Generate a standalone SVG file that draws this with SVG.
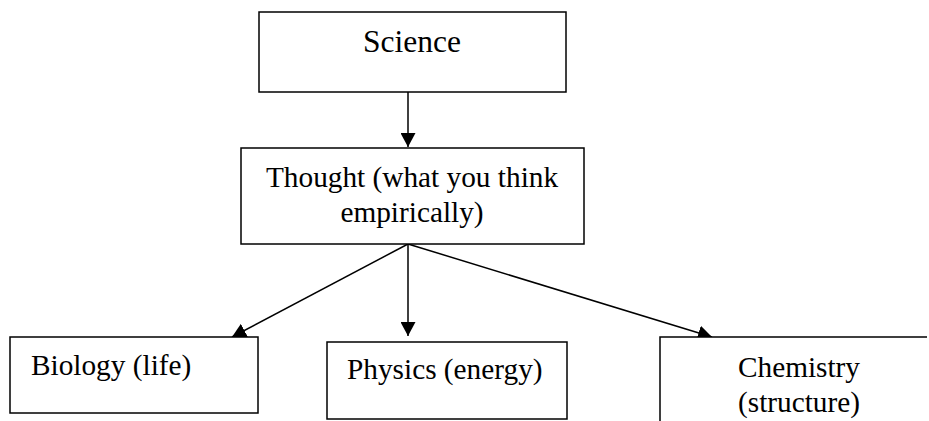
<svg xmlns="http://www.w3.org/2000/svg" width="929" height="421" viewBox="0 0 929 421">
<style>
.box{fill:#fff;stroke:#000;stroke-width:1.5}
.t{font-family:"Liberation Serif","Times New Roman",serif;font-size:29.3px;fill:#000}
.c{text-anchor:middle}
.edge{stroke:#000;stroke-width:1.5;fill:none}
</style>
<defs>
<marker id="arr" markerUnits="userSpaceOnUse" markerWidth="15" markerHeight="15" refX="14" refY="7.5" orient="auto">
<path d="M0,0 L14,7.5 L0,15 z" fill="#000"/>
</marker>
</defs>
<rect width="929" height="421" fill="#fff"/>
<g id="connectors">
<line class="edge" x1="408" y1="92" x2="408" y2="147" marker-end="url(#arr)"/>
<line class="edge" x1="408" y1="244" x2="408" y2="336" marker-end="url(#arr)"/>
<line class="edge" x1="408" y1="244" x2="232" y2="337" marker-end="url(#arr)"/>
<line class="edge" x1="408" y1="244" x2="712" y2="337" marker-end="url(#arr)"/>
</g>
<g id="science">
<rect class="box" x="259" y="12" width="307" height="80"/>
<text class="t c" x="412" y="52" style="font-size:31.5px">Science</text>
</g>
<g id="thought">
<rect class="box" x="241" y="148" width="343" height="96"/>
<text class="t c" x="412" y="187">Thought (what you think</text>
<text class="t c" x="412" y="222">empirically)</text>
</g>
<g id="biology">
<rect class="box" x="10" y="337" width="248" height="76"/>
<text class="t" x="31" y="375">Biology (life)</text>
</g>
<g id="physics">
<rect class="box" x="327" y="342" width="240" height="77"/>
<text class="t" x="347" y="379">Physics (energy)</text>
</g>
<g id="chemistry">
<path class="box" d="M660,422 L660,337 L927,337"/>
<text class="t c" x="799" y="377">Chemistry</text>
<text class="t c" x="799" y="412">(structure)</text>
</g>
</svg>
